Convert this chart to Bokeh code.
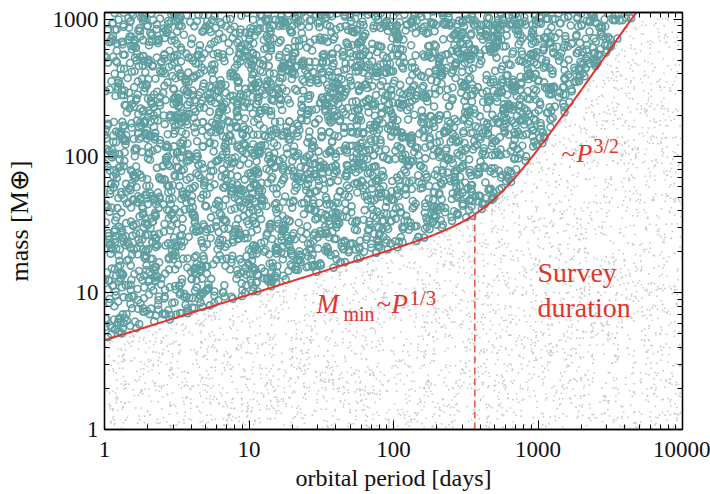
import numpy as np
from bokeh.plotting import figure
from bokeh.models import FixedTicker, LogAxis, Label, ColumnDataSource
from bokeh.embed import file_html
from bokeh.resources import INLINE

# ---------------- data ----------------
x_ticks = [1, 10, 100, 1000, 10000]
x_tick_labels = ["1", "10", "100", "1000", "10000"]
y_ticks = [1, 10, 100, 1000]
y_tick_labels = ["1", "10", "100", "1000"]

period_range = [1, 10000]          # days
mass_range = [1, 1125]             # Earth masses

x_title = "orbital period [days]"
y_title = "mass [M\u2295]"

# detection-limit curve
mmin_at_1day = 4.5                 # M_earth at P = 1 d  (~P^1/3 branch)
steep_ref_period = 1156            # days, point on the ~P^3/2 branch
steep_ref_mass = 134               # M_earth at that period
blend_power = 2.5                  # smooth transition between branches
survey_duration = 365              # days (dashed line)

# synthetic planet population (uniform in log P, log M), stand-in for the simulated sample
n_planets = 7000
rng = np.random.default_rng(11)
log_period = rng.uniform(0.0, 4.0, n_planets)
log_mass = rng.uniform(0.0, 3.06, n_planets)


def m_min(p):
    a = mmin_at_1day * p ** (1.0 / 3.0)
    b = steep_ref_mass * (p / steep_ref_period) ** 1.5
    return (a ** blend_power + b ** blend_power) ** (1.0 / blend_power)


period = 10 ** log_period
mass = 10 ** log_mass
detected = mass > m_min(period)

curve_p = np.logspace(0, 4, 300)
curve_m = m_min(curve_p)

# ---------------- figure ----------------
W, H = 710, 494
BL, BR, BT, BB = 104, 28, 12, 65
FONT = "Liberation Serif"
INK = "#111111"

p = figure(width=W, height=H, x_axis_type="log", y_axis_type="log",
           x_range=tuple(period_range), y_range=tuple(mass_range),
           output_backend="svg", toolbar_location=None,
           min_border_left=BL, min_border_right=BR,
           min_border_top=BT, min_border_bottom=BB)
p.xgrid.visible = False
p.ygrid.visible = False
p.outline_line_color = "black"
p.outline_line_width = 1.3
p.background_fill_color = "white"
p.border_fill_color = "white"

x_minor = [k * 10 ** d for d in range(0, 4) for k in range(2, 10)]
y_minor = [k * 10 ** d for d in range(0, 4) for k in range(2, 10)]


def style_axis(ax, ticks, minor, labels, show_labels):
    ax.ticker = FixedTicker(ticks=ticks, minor_ticks=minor)
    ax.major_label_overrides = {t: l for t, l in zip(ticks, labels)}
    ax.major_tick_in = 9
    ax.major_tick_out = 0
    ax.minor_tick_in = 5
    ax.minor_tick_out = 0
    ax.major_tick_line_color = "black"
    ax.minor_tick_line_color = "black"
    ax.axis_line_color = "black"
    ax.axis_line_width = 1.3
    ax.major_label_text_font = FONT
    ax.major_label_text_color = INK
    ax.axis_label_text_font = FONT
    ax.axis_label_text_font_style = "normal"
    ax.axis_label_text_color = INK
    if show_labels:
        ax.major_label_text_font_size = "23px"
    else:
        ax.major_label_text_font_size = "0px"
        ax.major_label_standoff = 0


style_axis(p.xaxis[0], x_ticks, x_minor, x_tick_labels, True)
style_axis(p.yaxis[0], y_ticks, y_minor, y_tick_labels, True)
p.xaxis[0].major_label_standoff = 12
p.yaxis[0].major_label_standoff = 6
p.xaxis[0].axis_label = x_title
p.xaxis[0].axis_label_text_font_size = "24px"
p.xaxis[0].axis_label_standoff = 5
p.yaxis[0].axis_label = y_title
p.yaxis[0].axis_label_text_font_size = "26px"
p.yaxis[0].axis_label_standoff = 16

top_ax = LogAxis()
right_ax = LogAxis()
style_axis(top_ax, x_ticks, x_minor, [""] * 5, False)
style_axis(right_ax, y_ticks, y_minor, [""] * 4, False)
p.add_layout(top_ax, "above")
p.add_layout(right_ax, "right")

# undetected (gray) and detected (teal) planets
und = ColumnDataSource(dict(x=period[~detected], y=mass[~detected]))
det = ColumnDataSource(dict(x=period[detected], y=mass[detected]))
p.scatter("x", "y", source=und, marker="square", size=1.5,
          fill_color="#c4c4c4", line_color=None)
p.scatter("x", "y", source=det, marker="circle", size=7,
          fill_color=None, line_color="#5f9ea0", line_width=1.6)

RED = "#e3342b"
p.line(curve_p, curve_m, line_color=RED, line_width=2)
p.segment(x0=[survey_duration], y0=[mass_range[0]],
          x1=[survey_duration], y1=[m_min(survey_duration)],
          line_color="#e8574e", line_width=1.6, line_dash="7 4")

# ---------------- annotations ----------------
fw = W - BL - BR
fh = H - BT - BB
x_dec = np.log10(period_range[1] / period_range[0])
y_dec = np.log10(mass_range[1] / mass_range[0])


def at(px, py):
    x = period_range[0] * 10 ** ((px - BL) / fw * x_dec)
    y = mass_range[0] * 10 ** ((H - BB - py) / fh * y_dec)
    return x, y


def lab(txt, px, py, size, color=RED, italic=False, align="left"):
    x, y = at(px, py)
    p.add_layout(Label(x=x, y=y, text=txt, text_font=FONT,
                       text_font_size=f"{size}px", text_color=color,
                       text_font_style="italic" if italic else "normal",
                       text_align=align, text_baseline="alphabetic"))


# M_min ~ P^{1/3}
lab("M", 316, 303, 27, italic=True)
lab("min", 343, 313, 20)
lab("~", 376, 303, 27)
lab("P", 391, 303, 27, italic=True)
lab("1/3", 409, 297, 21)

# ~P^{3/2}
lab("~", 561, 153, 26)
lab("P", 576, 153, 26, italic=True)
lab("3/2", 593, 145, 20)

# Survey duration
lab("Survey", 537, 272, 28)
lab("duration", 537, 307, 28)

open("out.html", "w").write(file_html(p, INLINE))
